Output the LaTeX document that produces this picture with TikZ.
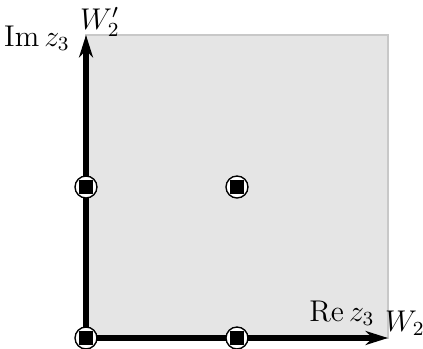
\documentclass[tikz,border=0pt]{standalone}
\usetikzlibrary{arrows.meta}
\begin{document}
\begin{tikzpicture}[x=0.4pt,y=0.4pt,
  axisline/.style={line width=2.4pt, -{Stealth[length=9pt,width=5.6pt]}},
  pole/.style={circle, draw=black, fill=white, line width=0.55pt,
    minimum size=8.8pt, inner sep=0pt,
    path picture={\fill[black] ([shift={(-2.9pt,-2.9pt)}]path picture bounding box.center) rectangle ++(5.8pt,5.8pt);}},
  axislabel/.style={font=\large, inner sep=0pt}]
\useasboundingbox (-86,-11) rectangle (337,338);
\coordinate (o) at (0,0);
\coordinate (xend) at (302,0);
\coordinate (yend) at (0,303);
\coordinate (c) at (302,303);
\fill[gray!20, draw=gray!43, line width=0.8pt] (o) rectangle (c);

\draw[axisline] (o) -- (xend);
\draw[axisline] (o) -- (yend);

\node[pole] (p00) at (0,0) {};
\node[pole] (p10) at (151,0) {};
\node[pole] (p01) at (0,151) {};
\node[pole] (p11) at (151,151) {};

\node[axislabel] (imz) at (-49,300) {$\mathrm{Im}\,z_3$};
\node[axislabel] (wp) at (14,316) {$W_2'$};
\node[axislabel] (rez) at (256,25) {$\mathrm{Re}\,z_3$};
\node[axislabel] (w) at (319,15) {$W_2$};
\end{tikzpicture}
\end{document}
